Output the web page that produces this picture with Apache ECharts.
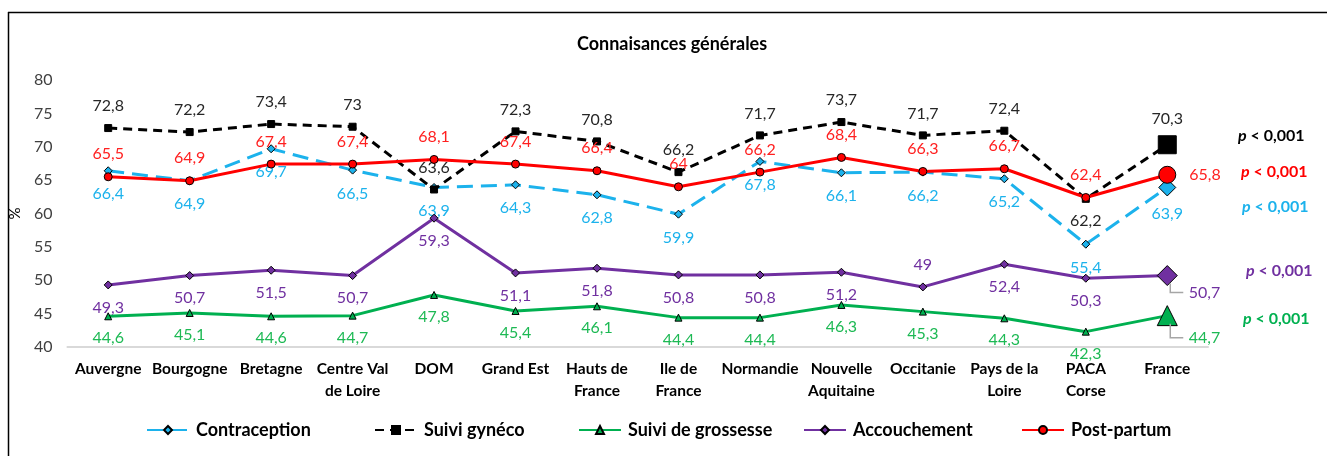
<!DOCTYPE html>
<html>
<head>
<meta charset="utf-8">
<script src="https://cdn.jsdelivr.net/npm/echarts@6/dist/echarts.min.js"></script>
<style>
html,body{margin:0;padding:0;background:#fff;}
#c{width:1327px;height:456px;}
</style>
</head>
<body>
<div id="c"></div>
<script>
const categories = ['Auvergne','Bourgogne','Bretagne','Centre Val\nde Loire','DOM','Grand Est','Hauts de\nFrance','Ile de\nFrance','Normandie','Nouvelle\nAquitaine','Occitanie','Pays de la\nLoire','PACA\nCorse','France'];
const contraception = [66.4,64.9,69.7,66.5,63.9,64.3,62.8,59.9,67.8,66.1,66.2,65.2,55.4,63.9];
const suiviGyneco   = [72.8,72.2,73.4,73,63.6,72.3,70.8,66.2,71.7,73.7,71.7,72.4,62.2,70.3];
const suiviGrossesse= [44.6,45.1,44.6,44.7,47.8,45.4,46.1,44.4,44.4,46.3,45.3,44.3,42.3,44.7];
const accouchement  = [49.3,50.7,51.5,50.7,59.3,51.1,51.8,50.8,50.8,51.2,49,52.4,50.3,50.7];
const postPartum    = [65.5,64.9,67.4,67.4,68.1,67.4,66.4,64,66.2,68.4,66.3,66.7,62.4,65.8];
const seriesNames = ['Contraception','Suivi gynéco','Suivi de grossesse','Accouchement','Post-partum'];
const yTicks = [40,45,50,55,60,65,70,75,80];
const pText = 'p < 0,001';

const FONT = 'Lato, "Open Sans", sans-serif';
const C = {blue:'#1CB2EC', black:'#000000', green:'#00B050', purple:'#7030A0', red:'#FF0000'};
const LBL = {blue:'#1CB2EC', black:'#262626', green:'#1DB954', purple:'#7030A0', red:'#FF2020'};
const fmt = p => String(p.value).replace('.', ',');
const last = categories.length - 1;

function build(values, opt) {
  return values.map((v, i) => {
    const item = {value: v};
    if (i === last) {
      item.symbolSize = opt.bigSize;
      if (opt.lastLabel) item.label = opt.lastLabel;
    } else if (opt.flip && opt.flip.includes(i)) {
      item.label = {position: opt.flip_pos};
    }
    return item;
  });
}

function series(name, values, color, lblColor, symbol, size, lineType, pos, opt) {
  return {
    name, type: 'line', data: build(values, opt),
    symbol, symbolSize: size,
    lineStyle: {color, width: 3, type: lineType},
    itemStyle: {color, borderColor: '#000', borderWidth: 1},
    label: {show: true, position: pos, distance: opt.dist || 10, color: lblColor,
            fontFamily: FONT, fontSize: 16, formatter: fmt},
    emphasis: {disabled: true},
    animation: false,
    z: opt.z
  };
}

const legendLeft = [141, 369, 573, 798, 1016];

const option = {
  animation: false,
  title: {text: 'Connaisances générales', left: 572, top: 30,
    textStyle: {fontFamily: FONT, fontSize: 18, fontWeight: 'bold', color: '#000'}},
  grid: {left: 65, right: 119, top: 80, bottom: 109},
  legend: seriesNames.map((n, i) => ({
    data: [n], left: legendLeft[i], bottom: 12, itemWidth: 42, itemHeight: 10, itemGap: 0,
    textStyle: {fontFamily: FONT, fontSize: 18, fontWeight: 'bold', color: '#000', padding: [0, 0, 0, 2]}
  })),
  xAxis: {
    type: 'category', data: categories, boundaryGap: true,
    axisLine: {lineStyle: {color: '#D9D9D9', width: 2}},
    axisTick: {show: false},
    axisLabel: {interval: 0, margin: 11, fontFamily: FONT, fontSize: 15.5, fontWeight: 'bold',
                color: '#000', lineHeight: 22}
  },
  yAxis: {
    type: 'value', min: yTicks[0], max: yTicks[yTicks.length-1], interval: 5,
    name: '%', nameLocation: 'middle', nameGap: 40, nameRotate: 90,
    nameTextStyle: {fontFamily: FONT, fontSize: 15, color: '#000'},
    axisLine: {show: false}, axisTick: {show: false}, splitLine: {show: false},
    axisLabel: {margin: 15, fontFamily: FONT, fontSize: 16, color: '#404040'}
  },
  series: [
    series('Contraception', contraception, C.blue, LBL.blue, 'diamond', 8, [16, 8], 'bottom',
      {bigSize: 17, dist: 11, z: 2, lastLabel: {position: 'bottom', distance: 9}}),
    series('Suivi gynéco', suiviGyneco, C.black, LBL.black, 'rect', 7, [9, 6], 'top',
      {bigSize: 18, flip: [12], flip_pos: 'bottom', z: 3, lastLabel: {position: 'top', distance: 8}}),
    series('Suivi de grossesse', suiviGrossesse, C.green, LBL.green, 'triangle', 7, 'solid', 'bottom',
      {bigSize: 20, z: 4, lastLabel: {position: 'right', distance: 11, offset: [0, 22]}}),
    series('Accouchement', accouchement, C.purple, LBL.purple, 'diamond', 8, 'solid', 'bottom',
      {bigSize: 20, flip: [10], flip_pos: 'top', z: 5,
       lastLabel: {position: 'right', distance: 11, offset: [0, 17]}}),
    series('Post-partum', postPartum, C.red, LBL.red, 'circle', 8, 'solid', 'top',
      {bigSize: 17, z: 6, lastLabel: {position: 'right', distance: 13}})
  ],
  graphic: [
    {type: 'line', shape: {x1: 8.5, y1: 12, x2: 8.5, y2: 456}, style: {stroke: '#000', lineWidth: 1.5}},
    {type: 'line', shape: {x1: 8, y1: 12.5, x2: 1327, y2: 12.5}, style: {stroke: '#000', lineWidth: 1.5}}
  ].concat([
    [C.black, 137, 1238], [C.red, 173, 1241], [C.blue, 208, 1242], [C.purple, 272, 1246], [C.green, 320, 1243]
  ].map(([col, y, x]) => ({
    type: 'text', left: x, top: y - 9,
    style: {
      text: '{i|p}{b|' + pText.slice(1) + '}',
      rich: {
        i: {fontFamily: FONT, fontSize: 16, fontWeight: 'bold', fontStyle: 'italic', fill: col},
        b: {fontFamily: FONT, fontSize: 16, fontWeight: 'bold', fill: col}
      }
    }
  })))
};

const chart = echarts.init(document.getElementById('c'), null, {renderer: 'canvas'});
chart.setOption(option);

// Elbow leader lines for the France labels, placed through the chart's own scales
const leaders = [[2, suiviGrossesse, 8, 22], [3, accouchement, 8, 17]];
const extra = leaders.map(([si, vals, startDy, dy]) => {
  const p = chart.convertToPixel({seriesIndex: si}, [last, vals[last]]);
  return {
    type: 'polyline', z: 10,
    shape: {points: [[p[0] + 3, p[1] + startDy], [p[0] + 3, p[1] + dy], [p[0] + 16, p[1] + dy]]},
    style: {stroke: '#A6A6A6', lineWidth: 1.5, fill: null}
  };
});
chart.setOption({graphic: option.graphic.concat(extra)});
</script>
</body>
</html>
